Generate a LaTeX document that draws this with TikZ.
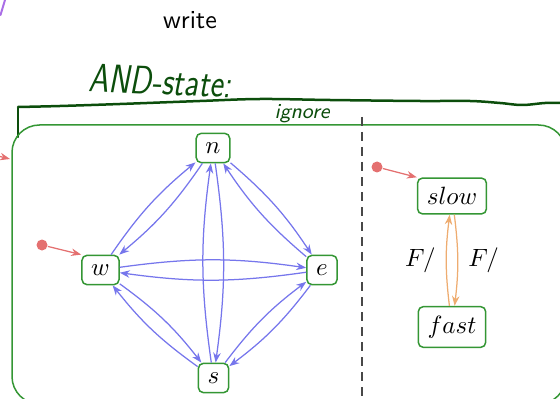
\documentclass[tikz,border=0pt]{standalone}
\usetikzlibrary{arrows.meta}

\definecolor{stategreen}{RGB}{52,150,52}
\definecolor{inkgreen}{RGB}{12,78,12}
\definecolor{transblue}{RGB}{118,118,236}
\definecolor{transorange}{RGB}{238,172,112}
\definecolor{initred}{RGB}{228,112,112}
\definecolor{divgray}{RGB}{72,72,72}
\definecolor{penpurple}{RGB}{170,110,230}

\begin{document}
\begin{tikzpicture}[x=0.4pt,y=-0.4pt,
  font=\fontsize{10.4}{12.5}\selectfont,
  state/.style={draw=stategreen,line width=0.6pt,rounded corners=2pt,
    inner sep=3.7pt,fill=white},
  superstate/.style={draw=stategreen,line width=0.6pt,rounded corners=11pt},
  tip/.style={-{Stealth[length=4pt,width=3pt]}},
  trans/.style={tip,transblue,line width=0.5pt,bend left=8},
  ftrans/.style={tip,transorange,line width=0.5pt,bend left=7},
  initdot/.style={circle,fill=initred,inner sep=0pt,minimum size=4.4pt},
  initarrow/.style={tip,initred,line width=0.5pt},
  divider/.style={divgray,line width=0.8pt,dash pattern=on 3.6pt off 2.4pt},
  ink/.style={inkgreen,line width=1pt,line cap=round,line join=round},
  flabel/.style={inner sep=0pt,text=black}
]
\useasboundingbox (0,0) rectangle (560,399);
\clip (0,0) rectangle (560,399);

% slide title fragment and pen mark
\node[font=\sffamily\fontsize{10.4}{12.5}\selectfont] (title) at (190,20) {write};
\draw[penpurple,line width=0.8pt,line cap=round] (0.5,15) -- (5,0);

% handwritten annotation
\node[ink,font=\sffamily\itshape\fontsize{16}{19}\selectfont,xscale=0.8,rotate=-2]
  (andlabel) at (160,81) {AND-state:};
\node[ink,font=\sffamily\itshape\fontsize{8.5}{10}\selectfont] (ignorelabel) at (302,114) {ignore};
\draw[ink] (18,137) -- (18,108);
\draw[ink] plot[smooth,tension=0.6] coordinates {(18,107) (60,106) (120,104) (200,101)
  (260,99) (330,100) (420,101) (470,101) (500,103) (522,105) (545,103) (560,103)};

% the AND-state and its two regions
\draw[superstate] (12,125) rectangle (566,404);
\coordinate (outerstart) at (-2,156);
\coordinate (outerend) at (10,159);
\draw[initarrow] (outerstart) -- (outerend);
\coordinate (divtop) at (362,117);
\coordinate (divbot) at (362,399);
\draw[divider] (divtop) -- (divbot);

% direction region
\node[state] (n) at (213,148) {$n$};
\node[state] (w) at (100.5,270) {$w$};
\node[state] (e) at (322,270) {$e$};
\node[state] (s) at (213.5,378) {$s$};
\node[initdot] (winit) at (42,245) {};
\draw[initarrow] (winit) -- (w.north west);

\draw[trans] (n) to (w);
\draw[trans] (w) to (n);
\draw[trans] (n) to (e);
\draw[trans] (e) to (n);
\draw[trans] (w) to (s);
\draw[trans] (s) to (w);
\draw[trans] (e) to (s);
\draw[trans] (s) to (e);
\draw[trans] (n) to (s);
\draw[trans] (s) to (n);
\draw[trans] (w) to (e);
\draw[trans] (e) to (w);

% speed region
\node[state] (slow) at (452,196) {$slow$};
\node[state] (fast) at (452,327) {$fast$};
\node[initdot] (slowinit) at (377,167) {};
\draw[initarrow] (slowinit) -- (slow.north west);
\draw[ftrans] (fast) to node[flabel,left=4pt] {$F/$} (slow);
\draw[ftrans] (slow) to node[flabel,right=4pt] {$F/$} (fast);
\end{tikzpicture}
\end{document}
